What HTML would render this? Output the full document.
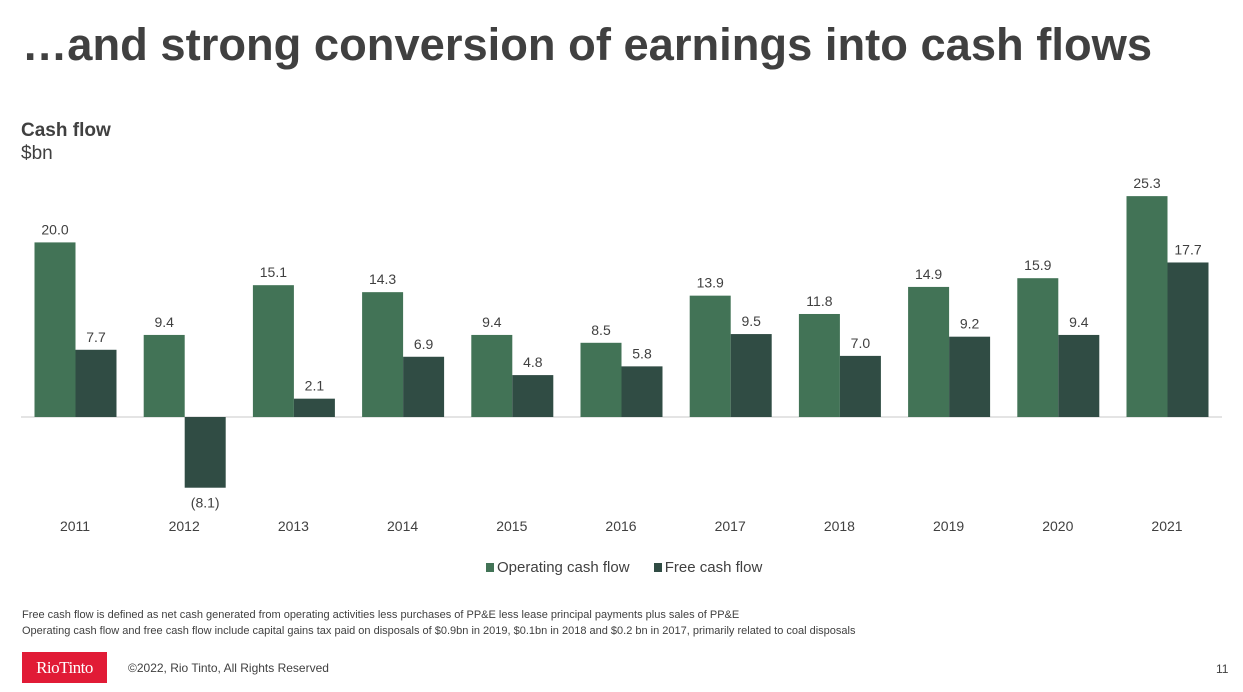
<!DOCTYPE html>
<html><head><meta charset="utf-8"><style>
body{margin:0;width:1243px;height:692px;background:#fff;font-family:"Liberation Sans",sans-serif;overflow:hidden;position:relative;color:#404040}
.a{position:absolute;white-space:nowrap}
</style></head><body>
<div class="a" style="left:22px;top:19px;font-size:45.3px;font-weight:bold;color:#404040">…and strong conversion of earnings into cash flows</div>
<div class="a" style="left:21px;top:120px;font-size:19px;font-weight:bold">Cash flow</div>
<div class="a" style="left:21px;top:143px;font-size:19px">$bn</div>
<svg class="a" style="left:0;top:0" width="1243" height="600" id="chart"></svg>
<div class="a" style="left:486px;top:559px;font-size:15px">
<span><span style="display:inline-block;width:8px;height:9px;background:#427356;margin-right:3px"></span>Operating cash flow</span>
<span style="margin-left:20px"><span style="display:inline-block;width:8px;height:9px;background:#304c44;margin-right:3px"></span>Free cash flow</span>
</div>
<div class="a" style="left:22px;top:609px;font-size:11px">Free cash flow is defined as net cash generated from operating activities less purchases of PP&amp;E less lease principal payments plus sales of PP&amp;E</div>
<div class="a" style="left:22px;top:625px;font-size:11px">Operating cash flow and free cash flow include capital gains tax paid on disposals of $0.9bn in 2019, $0.1bn in 2018 and $0.2 bn in 2017, primarily related to coal disposals</div>
<div class="a" style="left:22px;top:652px;width:85px;height:31px;background:#e11b36;color:#fff;font-family:'Liberation Serif',serif;font-size:17px;line-height:31px;text-align:center;letter-spacing:-0.5px">RioTinto</div>
<div class="a" style="left:128px;top:661px;font-size:12px">©2022, Rio Tinto, All Rights Reserved</div>
<div class="a" style="left:1216px;top:662px;font-size:12px">11</div>
<script>
const years=["2011","2012","2013","2014","2015","2016","2017","2018","2019","2020","2021"];
const operatingCashFlow=[20.0,9.4,15.1,14.3,9.4,8.5,13.9,11.8,14.9,15.9,25.3];
const freeCashFlow=[7.7,-8.1,2.1,6.9,4.8,5.8,9.5,7.0,9.2,9.4,17.7];
const svg=document.getElementById('chart');
const NS='http://www.w3.org/2000/svg';
const base=417, scale=8.73, x0=75, step=109.2, bw=41;
const y=v=>base-v*scale;
const fmt=v=>v<0?'('+Math.abs(v).toFixed(1)+')':v.toFixed(1);
function add(tag,attrs,text){const e=document.createElementNS(NS,tag);for(const k in attrs)e.setAttribute(k,attrs[k]);if(text!==undefined)e.textContent=text;svg.appendChild(e);return e;}
const ax=add('line',{x1:21,x2:1222,y1:base,y2:base,stroke:'#c8c8c8','stroke-width':1});


function bar(v,cx,color,name){
  const top=Math.min(y(v),base),h=Math.abs(y(v)-base);
  const r=add('rect',{x:cx-bw/2,y:top,width:bw,height:h,fill:color});
  
  
  const ty=v<0?y(v)+20:y(v)-8;
  const t=add('text',{x:cx,y:ty,'text-anchor':'middle','font-size':14,fill:'#404040','font-family':'Liberation Sans'},fmt(v));
  
  
}
years.forEach((yr,i)=>{
  const c=x0+i*step;
  bar(operatingCashFlow[i],c-bw/2+0.5,'#427356','bar-ocf-'+yr);
  bar(freeCashFlow[i],c+bw/2+0.5,'#304c44','bar-fcf-'+yr);
  const t=add('text',{x:c,y:531,'text-anchor':'middle','font-size':14,fill:'#404040','font-family':'Liberation Sans'},yr);
  
  
});
</script>
</body></html>
